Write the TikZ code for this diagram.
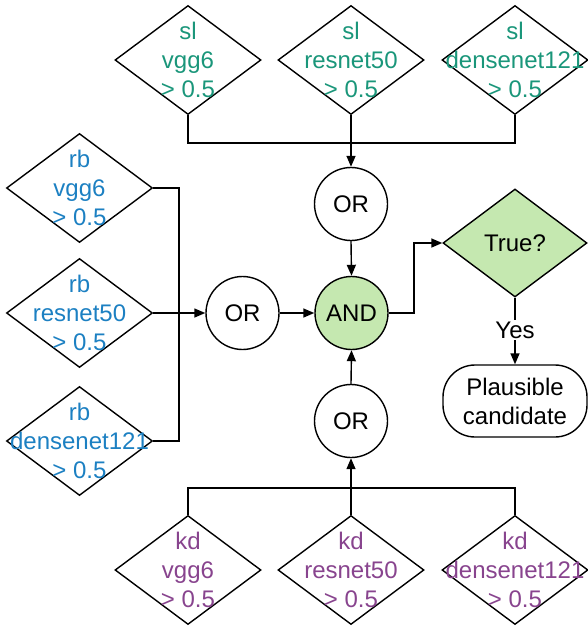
\documentclass[tikz,border=0pt]{standalone}
\usepackage{fontspec}
\setmainfont{Liberation Sans}
\usetikzlibrary{shapes.geometric,arrows.meta}
\definecolor{slc}{RGB}{26,150,122}
\definecolor{rbc}{RGB}{28,128,194}
\definecolor{kdc}{RGB}{136,68,142}
\definecolor{gfill}{RGB}{197,232,176}
\begin{document}
\begin{tikzpicture}[x=1pt,y=-1pt,line width=1.4pt,
  every node/.style={font=\fontsize{24}{29}\selectfont},
  dia/.style={draw,diamond,inner sep=0pt,minimum width=146pt,minimum height=109pt},
  dtext/.style={align=center,inner sep=0pt},
  gate/.style={draw,circle,minimum size=73pt,inner sep=0pt},
  arr/.style={-{Triangle[length=11pt,width=9pt]}}]
\useasboundingbox (0,0) rectangle (587,627);
% sl diamonds
\node[dia] (sl1) at (188,60) {};
\node[dia] (sl2) at (351,60) {};
\node[dia] (sl3) at (515,60) {};
\node[dtext,text=slc] at (sl1) {sl\\vgg6\\> 0.5};
\node[dtext,text=slc] at (sl2) {sl\\resnet50\\> 0.5};
\node[dtext,text=slc] at (sl3) {sl\\densenet121\\> 0.5};
% rb diamonds
\node[dia] (rb1) at (79.5,188) {};
\node[dia] (rb2) at (79.5,313) {};
\node[dia] (rb3) at (79.5,441) {};
\node[dtext,text=rbc] at (rb1) {rb\\vgg6\\> 0.5};
\node[dtext,text=rbc] at (rb2) {rb\\resnet50\\> 0.5};
\node[dtext,text=rbc] at (rb3) {rb\\densenet121\\> 0.5};
% kd diamonds
\node[dia] (kd1) at (188,570) {};
\node[dia] (kd2) at (351,570) {};
\node[dia] (kd3) at (515,570) {};
\node[dtext,text=kdc] at (kd1) {kd\\vgg6\\> 0.5};
\node[dtext,text=kdc] at (kd2) {kd\\resnet50\\> 0.5};
\node[dtext,text=kdc] at (kd3) {kd\\densenet121\\> 0.5};
% gates
\node[gate] (or1) at (351,204) {OR};
\node[gate] (or2) at (242.5,313) {OR};
\node[gate] (or3) at (351,421) {OR};
\node[gate,fill=gfill] (and) at (351.5,313) {AND};
\node[draw,diamond,fill=gfill,inner sep=0pt,minimum width=144pt,minimum height=108pt] (true) at (515,243) {};
\node[dtext] at (true) {True?};
\node[inner sep=1pt] (yes) at (515,330) {Yes};
\node[draw,rounded corners=32pt,minimum width=144pt,minimum height=72pt,align=center,inner sep=0pt] (cand) at (515,401) {Plausible\\candidate};
% buses
\coordinate (topbus) at (351,143);
\coordinate (lbus) at (179,313);
\coordinate (botbus) at (351,488);
\coordinate (rbend) at (414,313);
\draw (sl1.south) |- (topbus) -| (sl3.south);
\draw[arr] (sl2.south) -- (or1.north);
\draw (rb1.east) -| (lbus) |- (rb3.east);
\draw[arr] (rb2.east) -- (or2.west);
\draw (kd1.north) |- (botbus) -| (kd3.north);
\draw[arr] (kd2.north) -- (or3.south);
\draw[arr] (or1.south) -- (and.north);
\draw[arr] (or2.east) -- (and.west);
\draw[arr] (or3.north) -- (and.south);
\draw[arr] (and.east) -- (rbend) |- (true.west);
\draw (true.south) -- (yes.north);
\draw[arr] (yes.south) -- (cand.north);
\end{tikzpicture}
\end{document}
